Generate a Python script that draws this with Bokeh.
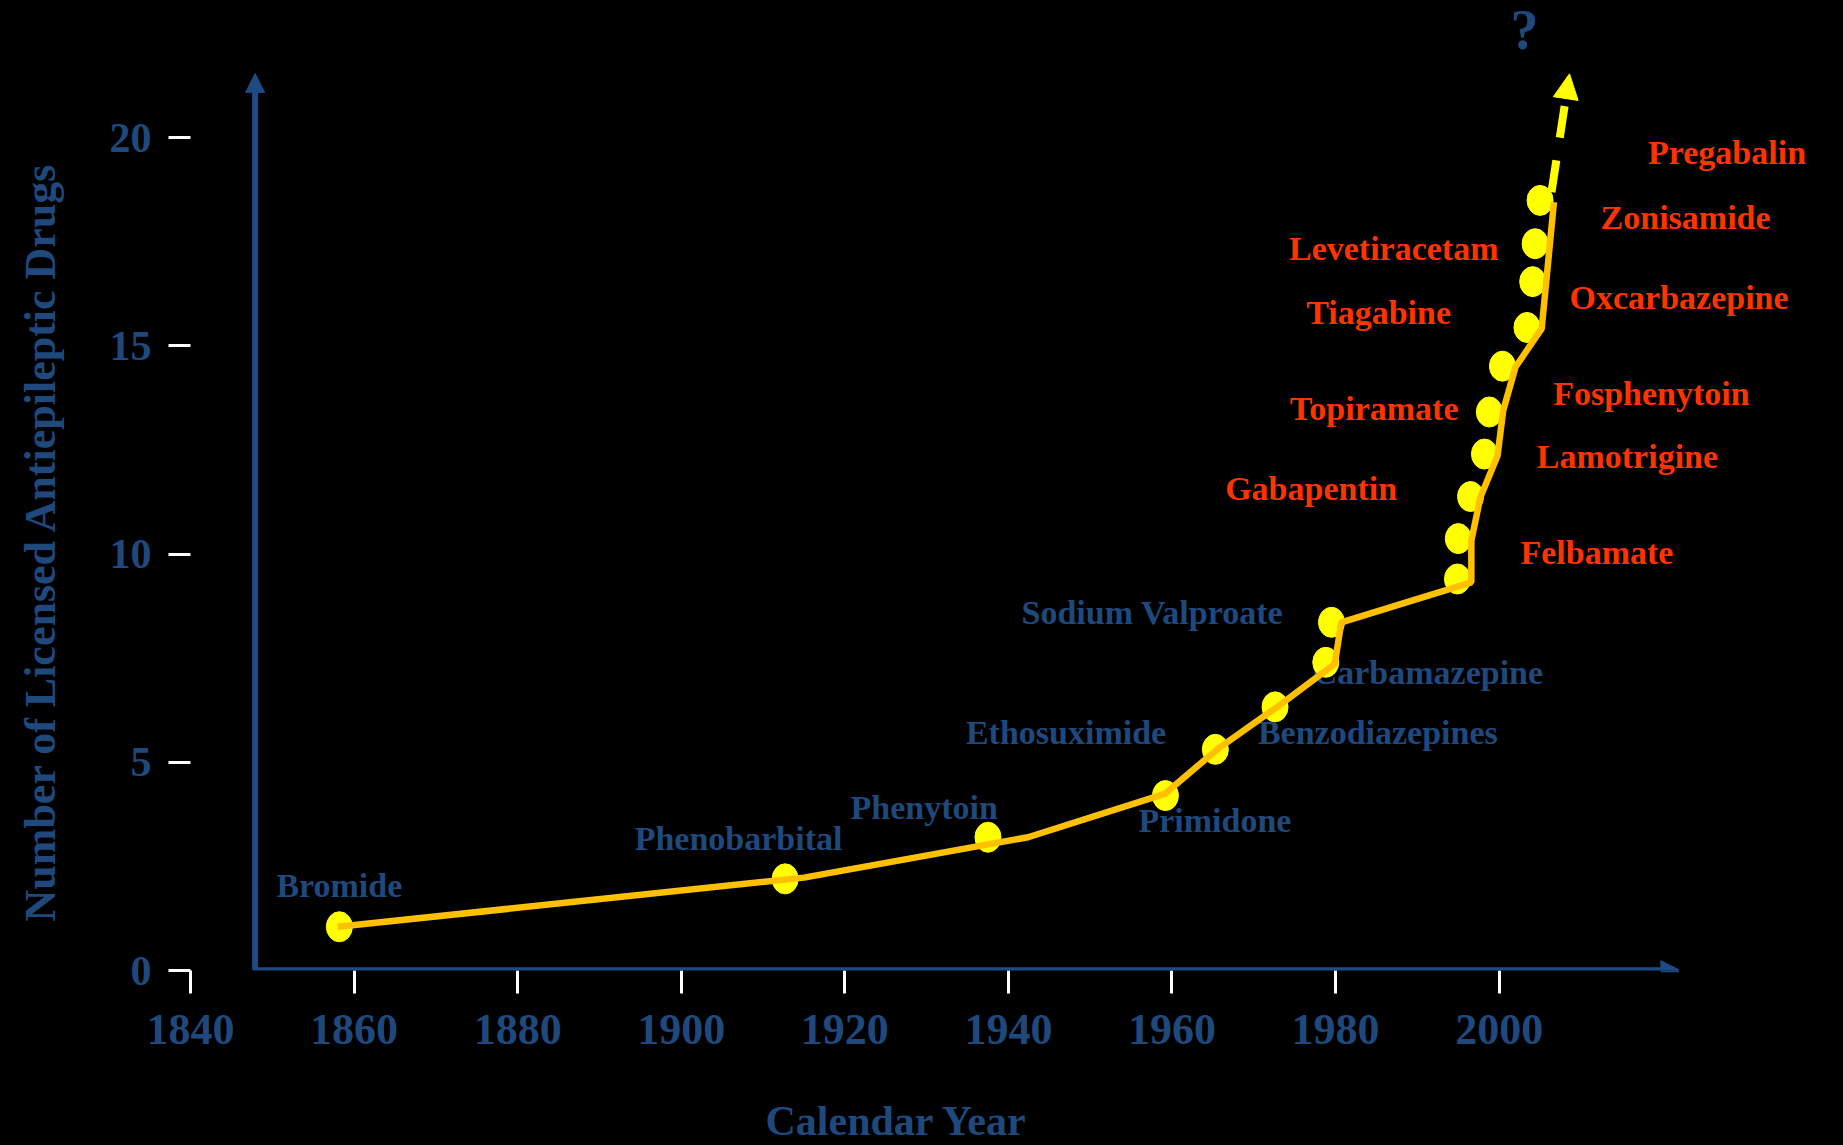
from bokeh.plotting import figure
from bokeh.models import Range1d, FixedTicker, Arrow, NormalHead, Label, ColumnDataSource, Title
from bokeh.core.properties import value
from bokeh.embed import file_html
from bokeh.resources import INLINE

# ---------------- data ----------------
x_ticks = [1840, 1860, 1880, 1900, 1920, 1940, 1960, 1980, 2000]
y_ticks = [0, 5, 10, 15, 20]

# yellow markers (year, cumulative count)
dot_year = [1858.2, 1912.7, 1937.5, 1959.2, 1965.3, 1972.6, 1978.8, 1979.5, 1994.9,
            1995.0, 1996.5, 1998.2, 1998.8, 2000.4, 2003.4, 2004.1, 2004.4, 2005.0]
dot_count = [1.05, 2.2, 3.2, 4.2, 5.31, 6.33, 7.40, 8.36, 9.40,
             10.37, 11.38, 12.40, 13.41, 14.51, 15.44, 16.54, 17.45, 18.49]

# gold trend line
line_year = [1858.0, 1915.0, 1942.4, 1959.1, 1965.6, 1972.8, 1979.9, 1980.7,
             1996.6, 1996.6, 1997.7, 1999.8, 2000.5, 2002.0, 2005.2, 2006.7]
line_count = [1.05, 2.23, 3.20, 4.24, 5.32, 6.32, 7.36, 8.36,
              9.32, 10.32, 11.36, 12.36, 13.45, 14.49, 15.41, 18.45]

# dashed projection
proj_year = [2006.4, 2008.6]
proj_count = [18.69, 21.53]

# older drugs (blue labels)
old_names = ["Bromide", "Phenobarbital", "Phenytoin", "Primidone", "Ethosuximide",
             "Benzodiazepines", "Carbamazepine", "Sodium  Valproate"]
old_x = [1850.5, 1894.3, 1920.7, 1955.9, 1934.8, 1970.5, 1977.2, 1941.6]
old_y = [2.03, 3.17, 3.91, 3.59, 5.72, 5.72, 7.16, 8.60]

# newer drugs (red labels)
new_names = ["Pregabalin", "Zonisamide", "Levetiracetam", "Oxcarbazepine", "Tiagabine",
             "Fosphenytoin", "Topiramate", "Lamotrigine", "Gabapentin", "Felbamate"]
new_x = [2018.2, 2012.4, 1974.3, 2008.6, 1976.4, 2006.6, 1974.4, 2004.6, 1966.5, 2002.6]
new_y = [19.63, 18.09, 17.34, 16.17, 15.79, 13.85, 13.49, 12.33, 11.57, 10.03]

x_title = "Calendar Year"
y_title = "Number of Licensed Antiepileptic Drugs"

# ---------------- styling ----------------
BLUE = "#1F497D"
AXBLUE = "#1F4B85"
RED = "#FF3300"
GOLD = "#FFC000"
YELLOW = "#FFFF00"
FONT = "Liberation Serif"

p = figure(width=1843, height=1145, output_backend="svg", toolbar_location=None,
           x_range=Range1d(1840, 2042.1), y_range=Range1d(0, 23.29),
           min_border_left=190, min_border_right=0, min_border_top=0, min_border_bottom=175,
           background_fill_color="black", border_fill_color="black",
           outline_line_color="black", outline_line_width=2)
p.styles = {"background-color": "black"}
p.grid.visible = False

for ax in (p.xaxis[0], p.yaxis[0]):
    ax.axis_line_color = None
    ax.major_tick_line_color = "white"
    ax.major_tick_line_width = 3
    ax.major_tick_in = 0
    ax.minor_tick_line_color = None
    ax.major_label_text_color = BLUE
    ax.major_label_text_font = FONT
    ax.major_label_text_font_style = "bold"
    ax.axis_label = " "

p.xaxis[0].ticker = FixedTicker(ticks=x_ticks)
p.xaxis[0].major_tick_out = 23
p.xaxis[0].major_label_standoff = 21
p.xaxis[0].major_label_text_font_size = "44px"
p.xaxis[0].axis_label_text_font_size = "2px"
p.xaxis[0].axis_label_standoff = 44
p.yaxis[0].ticker = FixedTicker(ticks=y_ticks)
p.yaxis[0].major_tick_out = 22
p.yaxis[0].major_label_standoff = 17
p.yaxis[0].major_label_text_font_size = "42px"
p.yaxis[0].axis_label_text_font_size = "10px"
p.yaxis[0].axis_label_standoff = 28

# axis titles as side titles
p.add_layout(Title(text=y_title, align="left", offset=49, standoff=0,
                   text_color=BLUE, text_font=FONT, text_font_style="bold",
                   text_font_size="44px"), "left")
p.add_layout(Title(text=x_title, align="left", offset=575, standoff=0,
                   text_color=BLUE, text_font=FONT, text_font_style="bold",
                   text_font_size="42px"), "below")

# blue axis arrows
p.add_layout(Arrow(x_start=1847.9, y_start=0.02, x_end=1847.9, y_end=21.54,
                   line_color=AXBLUE, line_width=6,
                   end=NormalHead(size=19, fill_color=AXBLUE, line_color=AXBLUE)))
p.add_layout(Arrow(x_start=1847.6, y_start=0.02, x_end=2021.97, y_end=0.02,
                   line_color=AXBLUE, line_width=5,
                   end=NormalHead(size=18, fill_color=AXBLUE, line_color=AXBLUE)))

# labels (under the markers)
old_src = ColumnDataSource(dict(x=old_x, y=old_y, t=old_names))
new_src = ColumnDataSource(dict(x=new_x, y=new_y, t=new_names))
p.text(x="x", y="y", text="t", source=old_src, text_color=BLUE, text_font=value(FONT),
       text_font_style="bold", text_font_size="34px", text_align="left", text_baseline="middle")
p.text(x="x", y="y", text="t", source=new_src, text_color=RED, text_font=value(FONT),
       text_font_style="bold", text_font_size="34px", text_align="left", text_baseline="middle")

# markers and line
p.ellipse(x=dot_year, y=dot_count, width=26, height=30, width_units="screen",
          height_units="screen", fill_color=YELLOW, fill_alpha=1.0, line_color=YELLOW, line_alpha=1.0)
p.line(line_year, line_count, line_color=GOLD, line_width=6.5)

# projection arrow
p.add_layout(Arrow(x_start=proj_year[0], y_start=proj_count[0], x_end=proj_year[1], y_end=proj_count[1],
                   line_color=YELLOW, line_width=8, line_dash="32 23",
                   end=NormalHead(size=25, fill_color=YELLOW, line_color=YELLOW)))

p.add_layout(Label(x=2003.1, y=22.58, text="?", text_color=BLUE, text_font=FONT,
                   text_font_style="bold", text_font_size="56px",
                   text_align="center", text_baseline="middle"))

html = file_html(p, INLINE)
html = html.replace("<body>", '<body style="background:black;margin:0">', 1)
open("out.html", "w").write(html)
